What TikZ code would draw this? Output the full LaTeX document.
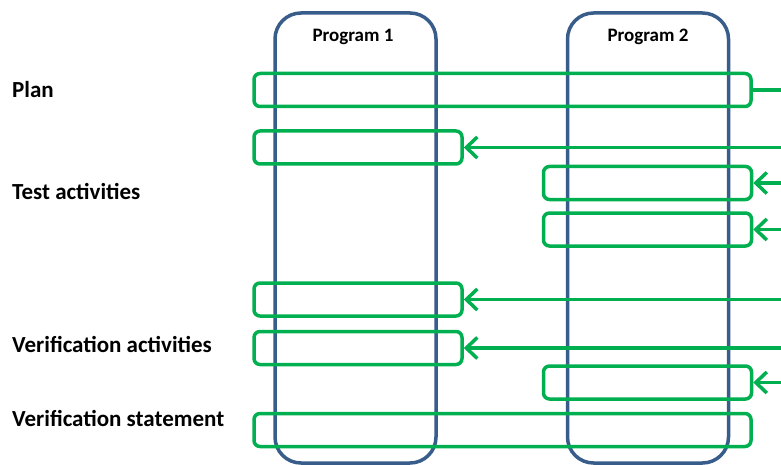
\documentclass[tikz,border=0pt]{standalone}
\usepackage{fontspec}
\setmainfont{Carlito}
\usetikzlibrary{arrows.meta}
\definecolor{progblue}{RGB}{56,93,138}
\definecolor{actgreen}{RGB}{0,176,80}

\begin{document}
\begin{tikzpicture}[x=1pt,y=-1pt,
 prog/.style={draw=progblue, line width=3.5pt, rounded corners=26pt, minimum width=161pt, minimum height=450pt, inner sep=0pt},
 act/.style={draw=actgreen, line width=3.5pt, rounded corners=6pt, minimum height=33pt, inner sep=0pt},
 actwide/.style={act, minimum width=497pt},
 actshort/.style={act, minimum width=208pt},
 feed/.style={actgreen, line width=3.5pt, -{Straight Barb[length=11pt,width=21pt]}},
 lbl/.style={anchor=base west, inner sep=0pt, font=\bfseries\fontsize{23}{26}\selectfont},
 ptitle/.style={anchor=base, inner sep=0pt, font=\bfseries\fontsize{19}{22}\selectfont}]
 \useasboundingbox [fill=white] (0,0) rectangle (781,465);

 % programs
 \node [prog] (p1) at (355.5,238) {};
 \node [prog] (p2) at (648,238) {};
 \node [ptitle] (p1t) at (353,42) {Program 1};
 \node [ptitle] (p2t) at (648,42) {Program 2};

 % row labels
 \node [lbl] (plan) at (12,98) {Plan};
 \node [lbl] (test) at (12,200) {Test activities};
 \node [lbl] (verif) at (12,352) {Verification activities};
 \node [lbl] (stmt) at (12,426) {Verification statement};

 % activities
 \node [actwide] (a1) at (502.5,90) {};
 \node [actshort] (a2) at (358,147.5) {};
 \node [actshort] (a3) at (647.5,183) {};
 \node [actshort] (a4) at (647.5,229.5) {};
 \node [actshort] (a5) at (358,299.5) {};
 \node [actshort] (a6) at (358,348) {};
 \node [actshort] (a7) at (647.5,382.5) {};
 \node [actwide] (a8) at (502.5,430) {};

 \coordinate (i1) at (785,90);
 \coordinate (i2) at (785,147.5);
 \coordinate (i3) at (785,183);
 \coordinate (i4) at (785,229.5);
 \coordinate (i5) at (785,299.5);
 \coordinate (i6) at (785,348);
 \coordinate (i7) at (785,382.5);

 \draw [actgreen, line width=3.5pt] (a1.east) -- (i1);
 \draw [feed] (i2) -- (a2.east);
 \draw [feed] (i3) -- (a3.east);
 \draw [feed] (i4) -- (a4.east);
 \draw [feed] (i5) -- (a5.east);
 \draw [feed] (i6) -- (a6.east);
 \draw [feed] (i7) -- (a7.east);
\end{tikzpicture}
\end{document}
